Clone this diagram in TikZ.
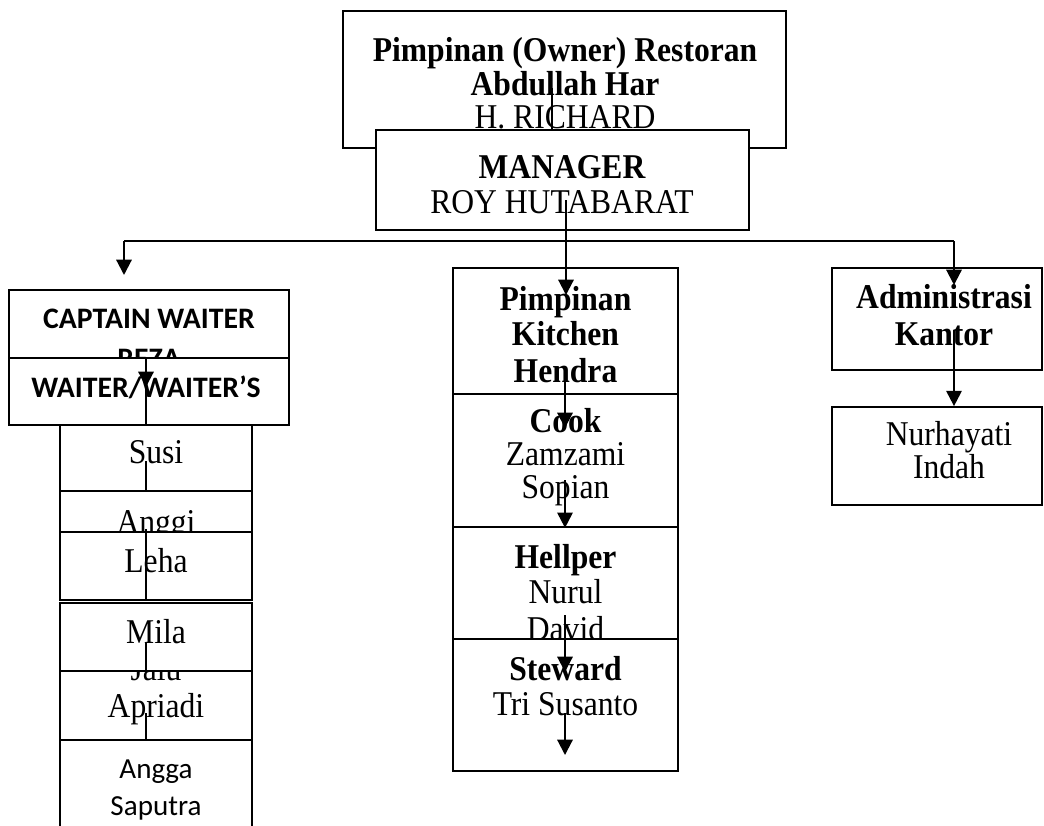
\documentclass[tikz,border=0pt]{standalone}
\usepackage{fontspec}
\setmainfont{Liberation Serif}
\newfontfamily\calfont{Carlito}
\usetikzlibrary{arrows.meta,fit}
\newcommand{\vstr}[1]{\scalebox{1}[1.1]{#1}}
\begin{document}
\begin{tikzpicture}[x=0.75pt,y=-0.75pt,
  box/.style={draw,line width=1.3pt,fill=white,inner sep=0pt},
  txt/.style={anchor=base,inner sep=0pt,font=\fontsize{23.7}{28}\selectfont},
  txtb/.style={txt,font=\fontsize{23.7}{28}\selectfont\bfseries},
  stxt/.style={anchor=base,inner sep=0pt,font=\fontsize{21.8}{26}\selectfont\calfont},
  stxtb/.style={stxt,font=\fontsize{22.3}{26}\selectfont\calfont\bfseries},
  arr/.style={line width=1.6pt,-{Triangle[length=11.5pt,width=11.5pt]}},
  ln/.style={line width=1.2pt},
  lnt/.style={line width=0.9pt}]
\useasboundingbox (0,0) rectangle (1044,825);
\clip (0,0) rectangle (1044,825);
\fill[white] (0,0) rectangle (1044,825);

% owner
\node[box, fit={(343,11)(786,148)}] (owner) {};
\node[txtb] (ow1) at (565,61) {\vstr{Pimpinan (Owner) Restoran}};
\node[txtb] (ow2) at (565,95) {\vstr{Abdullah Har}};
\node[txt] (ow3) at (565,128) {\vstr{H. RICHARD}};
\coordinate (o1) at (552,88);
\coordinate (o2) at (552,130);
\draw[ln] (o1) -- (o2);

% manager
\node[box, fit={(376,130)(749,230)}] (mgr) {};
\node[txtb] (mg1) at (562,178) {\vstr{MANAGER}};
\node[txt] (mg2) at (562,213) {\vstr{ROY HUTABARAT}};
\coordinate (m1) at (566,200);
\coordinate (jl) at (124,241);
\coordinate (jm) at (566,241);
\coordinate (jr) at (954,241);
\coordinate (al) at (124,275);
\coordinate (am) at (566,295);
\coordinate (ar) at (954,285);

% left column
\node[box, fit={(9,290)(289,358)}] (capt) {};
\node[stxtb] (cp1) at (149,328) {CAPTAIN WAITER};
\node[stxtb] (cp2) at (149,368) {REZA};
\node[box, fit={(9,358)(289,425)}] (wait) {};
\node[stxtb] (wt1) at (146,397) {WAITER/WAITER’S};
\coordinate (c1) at (146,358);
\coordinate (c2) at (146,387);
\coordinate (c3) at (146,425);
\draw[arr] (c1) -- (c2);
\draw[lnt] (c2) -- (c3);

\node[box, fit={(60,425)(252,491)}] (susi) {};
\node[txt] (su) at (156,463) {\vstr{Susi}};
\coordinate (s1) at (146,461);
\draw[lnt] (s1) -- (susi.south -| s1);

\node[box, fit={(60,491)(252,557)}] (anggi) {};
\node[txt] (an) at (156,533) {\vstr{Anggi}};
\node[box, fit={(60,532)(252,600)}] (leha) {};
\node[txt] (le) at (156,572) {\vstr{Leha}};
\coordinate (l1) at (146,529);
\draw[lnt] (l1) -- (leha.south -| l1);

\node[box, fit={(60,640)(252,740)}] (jalu) {};
\node[txt] (ja1) at (156,680) {\vstr{Jalu}};
\node[txt] (ja2) at (156,717) {\vstr{Apriadi}};
\coordinate (j1) at (146,713);
\draw[lnt] (j1) -- (jalu.south -| j1);
\node[box, fit={(60,603)(252,671)}] (mila) {};
\node[txt] (mi) at (156,643) {\vstr{Mila}};
\coordinate (mi1) at (146,642);
\draw[lnt] (mi1) -- (mila.south -| mi1);

\node[box, fit={(60,740)(252,860)}] (angga) {};
\node[stxt] (ag1) at (156,778) {Angga};
\node[stxt] (ag2) at (156,815) {Saputra};

% middle column
\node[box, fit={(453,268)(678,394)}] (kit) {};
\node[txtb] (k1) at (565.5,310) {\vstr{Pimpinan}};
\node[txtb] (k2) at (565.5,345) {\vstr{Kitchen}};
\node[txtb] (k3) at (565.5,382) {\vstr{Hendra}};
\node[box, fit={(453,394)(678,527)}] (cook) {};
\node[txtb] (co1) at (565.5,432) {\vstr{Cook}};
\node[txt] (co2) at (565.5,465) {\vstr{Zamzami}};
\node[txt] (co3) at (565.5,498) {\vstr{Sopian}};
\node[box, fit={(453,527)(678,639)}] (help) {};
\node[txtb] (he1) at (565.5,568) {\vstr{Hellper}};
\node[txt] (he2) at (565.5,603) {\vstr{Nurul}};
\node[txt] (he3) at (565.5,640) {\vstr{David}};
\node[box, fit={(453,639)(678,771)}] (stew) {};
\node[txtb] (st1) at (565.5,680) {\vstr{Steward}};
\node[txt] (st2) at (565.5,715) {\vstr{Tri Susanto}};

% right column
\node[box, fit={(832,268)(1042,370)}] (adm) {};
\node[txtb] (ad1) at (944,308) {\vstr{Administrasi}};
\node[txtb] (ad2) at (944,345) {\vstr{Kantor}};
\node[box, fit={(832,407)(1042,505)}] (nur) {};
\node[txt] (nu1) at (949,445) {\vstr{Nurhayati}};
\node[txt] (nu2) at (949,478) {\vstr{Indah}};

% connectors drawn on top
\draw[ln] (m1) -- (jm);
\draw[ln] (jl) -- (jr);
\draw[arr] (jl) -- (al);
\draw[arr] (jm) -- (am);
\draw[arr] (jr) -- (ar);
\coordinate (kk1) at (565,382);
\coordinate (kk2) at (565,428);
\draw[arr] (kk1) -- (kk2);
\coordinate (cc1) at (565,480);
\draw[arr] (cc1) -- (cook.south -| cc1);
\coordinate (hh1) at (565,615);
\coordinate (hh2) at (565,672);
\draw[arr] (hh1) -- (hh2);
\coordinate (ss1) at (565,713);
\coordinate (ss2) at (565,755);
\draw[arr] (ss1) -- (ss2);
\coordinate (aa1) at (954,330);
\draw[arr] (aa1) -- (nur.north -| aa1);
\end{tikzpicture}
\end{document}
